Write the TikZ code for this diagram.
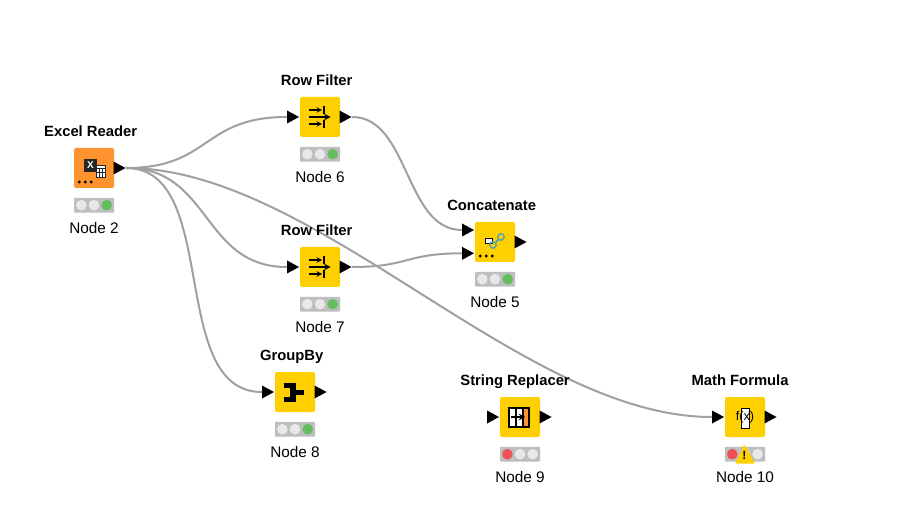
\documentclass[tikz,border=0pt]{standalone}
\usepackage{fontspec}
\setmainfont{Liberation Sans}
\usetikzlibrary{shapes.geometric, arrows, positioning, calc}
\definecolor{nodeYellow}{RGB}{255, 208, 0}
\definecolor{nodeOrange}{RGB}{255, 148, 46}
\definecolor{wireGray}{RGB}{160, 160, 160}
\definecolor{lightBg}{RGB}{190, 190, 190}
\definecolor{lightOff}{RGB}{232, 232, 232}
\definecolor{lightGreen}{RGB}{100, 190, 95}
\definecolor{lightRed}{RGB}{238, 80, 85}
\definecolor{linkBlue}{RGB}{90, 165, 175}
\tikzstyle{wire} = [line width=1.5pt, draw=wireGray]
\tikzstyle{basic} = [rectangle, minimum size=30pt, inner sep=0pt, rounded corners=1.5pt, draw=none]
\tikzstyle{yellowstyle} = [fill=nodeYellow]
\tikzstyle{orangestyle} = [fill=nodeOrange]
\tikzstyle{port} = [isosceles triangle, isosceles triangle stretches=true, minimum width=9.75pt, minimum height=9pt, inner sep=0pt, fill=black]
\tikzstyle{title} = [font=\fontsize{11.1pt}{12pt}\selectfont\bfseries, inner sep=0pt, anchor=base, yshift=8.5pt, xshift=-2.5pt]
\tikzstyle{label} = [font=\fontsize{11.5pt}{12pt}\selectfont, inner sep=0pt, anchor=base, yshift=-15.5pt]
\tikzstyle{lights} = [rectangle, minimum width=30pt, minimum height=11pt, inner sep=0pt, rounded corners=0.5pt, fill=lightBg]
\newcommand{\myLights}[3]{%
  \fill [#2] ($(#1)+(-9.5pt,0)$) circle (4pt);
  \fill [lightOff] (#1) circle (4pt);
  \fill [#3] ($(#1)+(9.5pt,0)$) circle (4pt);
}
\newcommand{\myDots}[1]{%
  \foreach \d in {-11,-6.5,-2} \fill ($(#1)+(\d pt,-10.5pt)$) circle (1.2pt);
}
\newcommand{\myRowIcon}[1]{%
  \draw [line width=1.3pt,->,>=stealth] ($(#1)+(-8.25pt,0)$) -- ($(#1)+(8pt,0)$);
  \draw [line width=0.8pt,->,>=stealth] ($(#1)+(-8.25pt,5.25pt)$) -- ($(#1)+(1.5pt,5.25pt)$);
  \draw [line width=0.8pt,->,>=stealth] ($(#1)+(-8.25pt,-5.25pt)$) -- ($(#1)+(1.5pt,-5.25pt)$);
  \draw [line width=0.9pt] ($(#1)+(3pt,2.5pt)$) -- ($(#1)+(3pt,8pt)$);
  \draw [line width=0.9pt] ($(#1)+(3pt,-2.5pt)$) -- ($(#1)+(3pt,-8pt)$);
}
\begin{document}
\begin{tikzpicture}[x=0.75pt, y=-0.75pt]
\useasboundingbox (0,0) rectangle (917,527);
\fill [white] (0,0) rectangle (917,527);

\node (excel) [basic, orangestyle] at(94,168) {};
\node (row6) [basic, yellowstyle] at(320,117) {};
\node (row7) [basic, yellowstyle] at(320,267) {};
\node (concat) [basic, yellowstyle] at(495,242) {};
\node (group) [basic, yellowstyle] at(295,392) {};
\node (replace) [basic, yellowstyle] at(520,417) {};
\node (math) [basic, yellowstyle] at(745,417) {};

\node (excelOut) [port, anchor=lower side, xshift=-0.75pt] at(excel.east) {};
\node (row6In) [port, anchor=apex] at(row6.west) {};
\node (row6Out) [port, anchor=lower side, xshift=-0.75pt] at(row6.east) {};
\node (row7In) [port, anchor=apex] at(row7.west) {};
\node (row7Out) [port, anchor=lower side, xshift=-0.75pt] at(row7.east) {};
\node (concatIn0) [port, anchor=apex, yshift=9pt] at(concat.west) {};
\node (concatIn1) [port, anchor=apex, yshift=-8.5pt] at(concat.west) {};
\node (concatOut) [port, anchor=lower side, xshift=-0.75pt] at(concat.east) {};
\node (groupIn) [port, anchor=apex] at(group.west) {};
\node (groupOut) [port, anchor=lower side, xshift=-0.75pt] at(group.east) {};
\node (replaceIn) [port, anchor=apex] at(replace.west) {};
\node (replaceOut) [port, anchor=lower side, xshift=-0.75pt] at(replace.east) {};
\node (mathIn) [port, anchor=apex] at(math.west) {};
\node (mathOut) [port, anchor=lower side, xshift=-0.75pt] at(math.east) {};

\draw [wire] (excelOut.apex) .. controls +(85,0) and +(-85,0) .. (row6In.lower side);
\draw [wire] (excelOut.apex) .. controls +(85,0) and +(-85,0) .. (row7In.lower side);
\draw [wire] (excelOut.apex) .. controls +(95,0) and +(-95,0) .. (groupIn.lower side);
\draw [wire] (excelOut.apex) .. controls +(190,0) and +(-190,0) .. (mathIn.lower side);
\draw [wire] (row6Out.apex) .. controls +(57,0) and +(-57,0) .. (concatIn0.lower side);
\draw [wire] (row7Out.apex) .. controls +(57,0) and +(-57,0) .. (concatIn1.lower side);

\node (excelTitle) [title] at(excel.north) {Excel Reader};
\node (row6Title) [title] at(row6.north) {Row Filter};
\node (row7Title) [title] at(row7.north) {Row Filter};
\node (concatTitle) [title] at(concat.north) {Concatenate};
\node (groupTitle) [title] at(group.north) {GroupBy};
\node (replaceTitle) [title, xshift=-1.2pt] at(replace.north) {String Replacer};
\node (mathTitle) [title, xshift=-1.2pt] at(math.north) {Math Formula};

\node (excelLights) [lights, anchor=north, yshift=-7pt] at(excel.south) {};
\node (row6Lights) [lights, anchor=north, yshift=-7pt] at(row6.south) {};
\node (row7Lights) [lights, anchor=north, yshift=-7pt] at(row7.south) {};
\node (concatLights) [lights, anchor=north, yshift=-7pt] at(concat.south) {};
\node (groupLights) [lights, anchor=north, yshift=-7pt] at(group.south) {};
\node (replaceLights) [lights, anchor=north, yshift=-7pt] at(replace.south) {};
\node (mathLights) [lights, anchor=north, yshift=-7pt] at(math.south) {};
\myLights{excelLights}{lightOff}{lightGreen}
\myLights{row6Lights}{lightOff}{lightGreen}
\myLights{row7Lights}{lightOff}{lightGreen}
\myLights{concatLights}{lightOff}{lightGreen}
\myLights{groupLights}{lightOff}{lightGreen}
\myLights{replaceLights}{lightRed}{lightOff}
\myLights{mathLights}{lightRed}{lightOff}

\node (excelLabel) [label] at(excelLights.south) {Node 2};
\node (row6Label) [label] at(row6Lights.south) {Node 6};
\node (row7Label) [label] at(row7Lights.south) {Node 7};
\node (concatLabel) [label] at(concatLights.south) {Node 5};
\node (groupLabel) [label] at(groupLights.south) {Node 8};
\node (replaceLabel) [label] at(replaceLights.south) {Node 9};
\node (mathLabel) [label] at(mathLights.south) {Node 10};

% icons
\fill [black!85] ($(excel)+(-7.5pt,6.75pt)$) rectangle ($(excel)+(2.25pt,-3pt)$);
\node (excelX) [font=\fontsize{7.5pt}{8pt}\selectfont\bfseries, text=white, inner sep=0pt] at($(excel)+(-2.6pt,1.9pt)$) {X};
\draw [black!85, fill=white, line width=0.7pt] ($(excel)+(1.5pt,2.25pt)$) rectangle ($(excel)+(8.25pt,-6.75pt)$);
\draw [black!85, line width=0.6pt] ($(excel)+(1.5pt,-0.5pt)$) -- ($(excel)+(8.25pt,-0.5pt)$);
\draw [black!85, line width=0.6pt] ($(excel)+(1.5pt,-3.5pt)$) -- ($(excel)+(8.25pt,-3.5pt)$);
\draw [black!85, line width=0.6pt] ($(excel)+(3.75pt,-0.5pt)$) -- ($(excel)+(3.75pt,-6.75pt)$);
\draw [black!85, line width=0.6pt] ($(excel)+(6pt,-0.5pt)$) -- ($(excel)+(6pt,-6.75pt)$);
\myDots{excel}
\myRowIcon{row6}
\myRowIcon{row7}
\myDots{concat}
\draw [black, fill=white, line width=0.7pt] ($(concat)+(-7.5pt,3pt)$) rectangle ($(concat)+(-2.25pt,-0.75pt)$);
\draw [line width=1.1pt, draw=linkBlue] ($(concat)+(4.5pt,3.75pt)$) circle (2.4pt);
\draw [line width=1.1pt, draw=linkBlue] ($(concat)+(-1.5pt,-2.25pt)$) circle (2.4pt);
\draw [line width=1.4pt, draw=linkBlue] ($(concat)+(0pt,-0.75pt)$) -- ($(concat)+(3pt,2.25pt)$);
\fill ($(group)+(-8.25pt,6.75pt)$) rectangle ($(group)+(0.75pt,3pt)$);
\fill ($(group)+(-3.75pt,6.75pt)$) rectangle ($(group)+(0.75pt,-7.5pt)$);
\fill ($(group)+(-8.25pt,-3.75pt)$) rectangle ($(group)+(0.75pt,-7.5pt)$);
\fill ($(group)+(0.75pt,1.5pt)$) rectangle ($(group)+(6.75pt,-2.25pt)$);
\fill [white] ($(replace)+(-8.25pt,6.75pt)$) rectangle ($(replace)+(2.25pt,-7.5pt)$);
\fill [nodeOrange] ($(replace)+(2.25pt,6.75pt)$) rectangle ($(replace)+(6.75pt,-7.5pt)$);
\draw [line width=1pt] ($(replace)+(-8.25pt,6.75pt)$) rectangle ($(replace)+(6.75pt,-7.5pt)$);
\draw [line width=0.8pt] ($(replace)+(-3pt,6.75pt)$) -- ($(replace)+(-3pt,-7.5pt)$);
\draw [line width=0.8pt] ($(replace)+(2.25pt,6.75pt)$) -- ($(replace)+(2.25pt,-7.5pt)$);
\draw [line width=1.2pt,->,>=stealth] ($(replace)+(-7pt,0)$) -- ($(replace)+(4pt,0)$);
\draw [black, fill=white, line width=0.6pt] ($(math)+(-3pt,6.75pt)$) rectangle ($(math)+(3pt,-8.25pt)$);
\node (mathIcon) [font=\fontsize{9.5pt}{10pt}\selectfont, inner sep=0pt] at($(math)+(0,-0.5pt)$) {f(x)};
\fill [nodeYellow, rounded corners=1pt] ($(mathLights)+(-7.5pt,-7pt)$) -- ($(mathLights)+(-0.4pt,7.5pt)$) -- ($(mathLights)+(7.5pt,-7pt)$) -- cycle;
\node (mathWarn) [font=\fontsize{9pt}{9pt}\selectfont\bfseries, inner sep=0pt] at($(mathLights)+(-0.4pt,-1.2pt)$) {!};

\end{tikzpicture}
\end{document}
